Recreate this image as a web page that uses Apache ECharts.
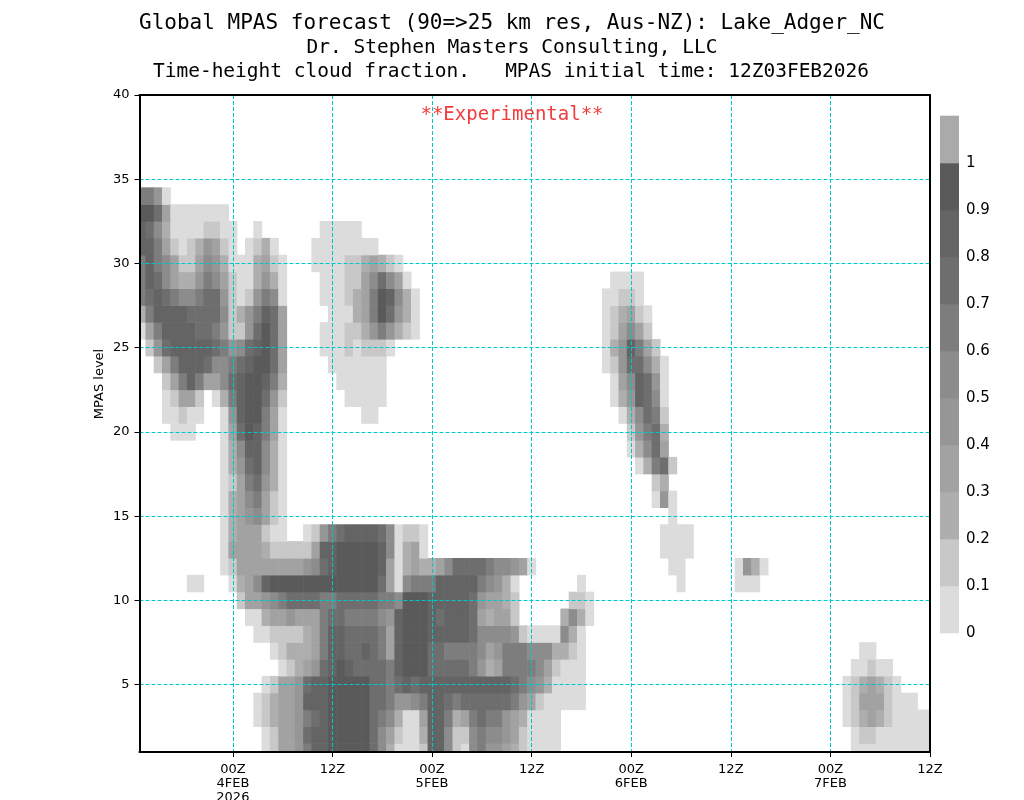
<!DOCTYPE html>
<html><head><meta charset="utf-8">
<script src="https://cdn.jsdelivr.net/npm/echarts@6/dist/echarts.min.js"></script>
<style>html,body{margin:0;padding:0;background:#fff}#c{width:1024px;height:800px}</style>
</head><body><div id="c"></div>
<script>
const titleLines = [
  'Global MPAS forecast (90=>25 km res, Aus-NZ): Lake_Adger_NC',
  'Dr. Stephen Masters Consulting, LLC',
  'Time-height cloud fraction.   MPAS initial time: 12Z03FEB2026'
];
const stampText = '**Experimental**';
const yAxisTitle = 'MPAS level';
// hours since 12Z03FEB2026
const xTickHours = [12, 24, 36, 48, 60, 72, 84, 96];
const xTickLabels = ['00Z\n4FEB\n2026', '12Z', '00Z\n5FEB', '12Z', '00Z\n6FEB', '12Z', '00Z\n7FEB', '12Z'];
const yTickLevels = [5, 10, 15, 20, 25, 30, 35, 40];
const legendBreaks = [0, 0.1, 0.2, 0.3, 0.4, 0.5, 0.6, 0.7, 0.8, 0.9, 1.0];
const shadeColors = ['#dcdcdc', '#c8c8c8', '#aeaeae', '#a2a2a2', '#969696', '#8c8c8c', '#7d7d7d', '#6e6e6e', '#646464', '#5a5a5a', '#aaaaaa'];
// cloud fraction per model level: [first hour, digits]; digit d = fraction class d/10..(d+1)/10
const cloudRows = {
  34: [[1, "6640"]],
  33: [[1, "99730000000"]],
  32: [[1, "875200001100"], [15, "0"], [23, "00000"]],
  31: [[1, "886310124310"], [14, "0120"], [22, "00000000"]],
  30: [[1, "686531135420002310"], [22, "00001123210"]],
  29: [[1, "687532246531002420"], [23, "00011357530"], [58, "0000"]],
  28: [[1, "678765567741014650"], [23, "000123698520"], [57, "00110"]],
  27: [[1, "268888777751246873"], [24, "00023697420"], [57, "012310"]],
  26: [[1, "036888877641147973"], [23, "000112464210"], [57, "013531"]],
  25: [[2, "14788888764578973"], [23, "000101110"], [57, "0248631"]],
  24: [[3, "1368887556789973"], [24, "0000000"], [57, "01477520"]],
  23: [[4, "136863357899862"], [25, "000000"], [58, "0358740"]],
  22: [[4, "01331"], [10, "026899741"], [26, "00000"], [58, "0248750"]],
  21: [[4, "00100"], [11, "04899630"], [28, "00"], [59, "025761"]],
  20: [[5, "000"], [11, "03798630"], [60, "14672"]],
  19: [[11, "02588520"], [60, "02573"]],
  18: [[11, "02478520"], [61, "02671"]],
  17: [[11, "01367420"], [63, "12"]],
  16: [[11, "02356310"], [63, "040"]],
  15: [[11, "02345310"], [65, "0"]],
  14: [[11, "02333100"], [21, "014678888750110"], [64, "0000"]],
  13: [[11, "0333321111138899999850230"], [64, "0000"]],
  12: [[11, "01333333334578999998302322357777655430"], [65, "00"], [73, "0420"]],
  11: [[7, "00"], [12, "02358999999999999973056668888865420"], [54, "0"], [66, "0"], [73, "000"]],
  10: [[13, "1334567777667777766599988888743321"], [53, "110"]],
  9:  [[14, "002334333677666654899987888732331"], [52, "2520"]],
  8:  [[15, "0011112368877776389998888875555410000520"]],
  7:  [[17, "01222368877876389997766665346665552210"], [88, "00"]],
  6:  [[18, "0123478987777689997777764236666531000"], [87, "00100"]],
  5:  [[16, "013347889999977678788888888888765420000"], [86, "0123210"]],
  4:  [[15, "0123348889999977644568876777777643100000"], [86, "013331000"]],
  3:  [[15, "0123346789999976520038862367664320000"], [86, "01232100000"]],
  2:  [[16, "013347889999975310028851156554310000"], [87, "0110000000"]],
  1:  [[16, "013346889999975200018851056443210000"], [87, "0000000000"]]
};

const cells = [];
Object.keys(cloudRows).forEach(function (k) {
  const lev = +k;
  cloudRows[k].forEach(function (seg) {
    const start = seg[0], s = seg[1];
    for (let i = 0; i < s.length; i++) {
      const ch = s[i];
      if (ch === '.') continue;
      cells.push([start + i, lev, (+ch + 0.5) / 10]);
    }
  });
});
const legendItems = legendBreaks.map(function (b, i) { return [i, b]; });

const FONT = "'DejaVu Sans', sans-serif";
const MONO = "'DejaVu Sans Mono', monospace";
const GRID_LINE = { show: true, lineStyle: { color: '#00c8c8', width: 1, type: [4, 2] } };

function clip(r, cs) {
  return echarts.graphic.clipRectByRect(r, { x: cs.x, y: cs.y, width: cs.width, height: cs.height });
}

const chart = echarts.init(document.getElementById('c'), null, { renderer: 'canvas' });
chart.setOption({
  backgroundColor: '#fff',
  animation: false,
  graphic: [
    { type: 'text', x: 512, y: 24, style: { text: titleLines[0], font: '21px ' + MONO, fill: '#000', align: 'center', verticalAlign: 'middle' } },
    { type: 'text', x: 512, y: 48, style: { text: titleLines[1], font: '19.5px ' + MONO, fill: '#000', align: 'center', verticalAlign: 'middle' } },
    { type: 'text', x: 511, y: 72, style: { text: titleLines[2], font: '19.5px ' + MONO, fill: '#000', align: 'center', verticalAlign: 'middle' } },
    { type: 'text', x: 512, y: 115, style: { text: stampText, font: '19px ' + MONO, fill: '#f03c3c', align: 'center', verticalAlign: 'middle' }, z: 20 },
    { type: 'text', x: 100, y: 384, rotation: Math.PI / 2, style: { text: yAxisTitle, font: '13px ' + FONT, fill: '#000', align: 'center', verticalAlign: 'middle' } }
  ],
  grid: [
    { left: 139.5, top: 95, width: 790.5, height: 657, containLabel: false, outerBoundsMode: 'none' },
    { left: 940, top: 116, width: 19, height: 517, containLabel: false, outerBoundsMode: 'none' }
  ],
  xAxis: [
    {
      gridIndex: 0, type: 'value', min: 0.75, max: 96, position: 'bottom', z: 10,
      axisLine: { show: true, lineStyle: { color: '#000', width: 2 } },
      axisTick: { show: true, customValues: xTickHours, length: 5, lineStyle: { color: '#000' } },
      axisLabel: {
        customValues: xTickHours, margin: 11, color: '#000', fontFamily: FONT, fontSize: 13, lineHeight: 14,
        formatter: function (v) { const i = xTickHours.indexOf(Math.round(v)); return i >= 0 ? xTickLabels[i] : ''; }
      },
      splitLine: GRID_LINE
    },
    {
      gridIndex: 0, type: 'value', min: 0.75, max: 96, position: 'top', z: 10,
      axisLine: { show: true, lineStyle: { color: '#000', width: 2 } },
      axisTick: { show: false }, axisLabel: { show: false }, splitLine: { show: false }
    },
    { gridIndex: 1, type: 'value', min: 0, max: 1, show: false }
  ],
  yAxis: [
    {
      gridIndex: 0, type: 'value', min: 1, max: 40, position: 'left', z: 10,
      axisLine: { show: true, lineStyle: { color: '#000', width: 2 } },
      axisTick: { show: true, customValues: yTickLevels, length: 5, lineStyle: { color: '#000' } },
      axisLabel: { customValues: yTickLevels, margin: 10, color: '#000', fontFamily: FONT, fontSize: 13 },
      splitLine: GRID_LINE
    },
    {
      gridIndex: 0, type: 'value', min: 1, max: 40, position: 'right', z: 10,
      axisLine: { show: true, lineStyle: { color: '#000', width: 2 } },
      axisTick: { show: false }, axisLabel: { show: false }, splitLine: { show: false }
    },
    {
      gridIndex: 1, type: 'value', min: 0, max: 1.1, position: 'right',
      axisLine: { show: false }, axisTick: { show: false }, splitLine: { show: false },
      axisLabel: {
        customValues: legendBreaks, margin: 7, color: '#000', fontFamily: FONT, fontSize: 15,
        formatter: function (v) { return String(Math.round(v * 10) / 10); }
      }
    }
  ],
  series: [
    {
      type: 'custom', coordinateSystem: 'cartesian2d', xAxisIndex: 0, yAxisIndex: 0, silent: true,
      dimensions: ['hour', 'level', 'fraction'], encode: { x: 0, y: 1 },
      data: cells,
      renderItem: function (params, api) {
        const h = api.value(0), lev = api.value(1), f = api.value(2);
        const p0 = api.coord([h - 0.5, lev + 0.5]);
        const p1 = api.coord([h + 0.5, lev - 0.5]);
        const r = clip({ x: p0[0] - 0.3, y: p0[1] - 0.3, width: p1[0] - p0[0] + 0.6, height: p1[1] - p0[1] + 0.6 }, params.coordSys);
        if (!r) return null;
        return { type: 'rect', shape: r, style: { fill: shadeColors[Math.min(10, Math.floor(f * 10))] } };
      }
    },
    {
      type: 'custom', coordinateSystem: 'cartesian2d', xAxisIndex: 2, yAxisIndex: 2, silent: true,
      dimensions: ['cls', 'low'], encode: { x: 0, y: 1 },
      data: legendItems,
      renderItem: function (params, api) {
        const cls = api.value(0), lo = api.value(1);
        const p0 = api.coord([0, lo + 0.1]);
        const p1 = api.coord([1, lo]);
        return { type: 'rect', shape: { x: p0[0], y: p0[1] - 0.3, width: p1[0] - p0[0], height: p1[1] - p0[1] + 0.6 }, style: { fill: shadeColors[cls] } };
      }
    }
  ]
});
</script>
</body></html>
